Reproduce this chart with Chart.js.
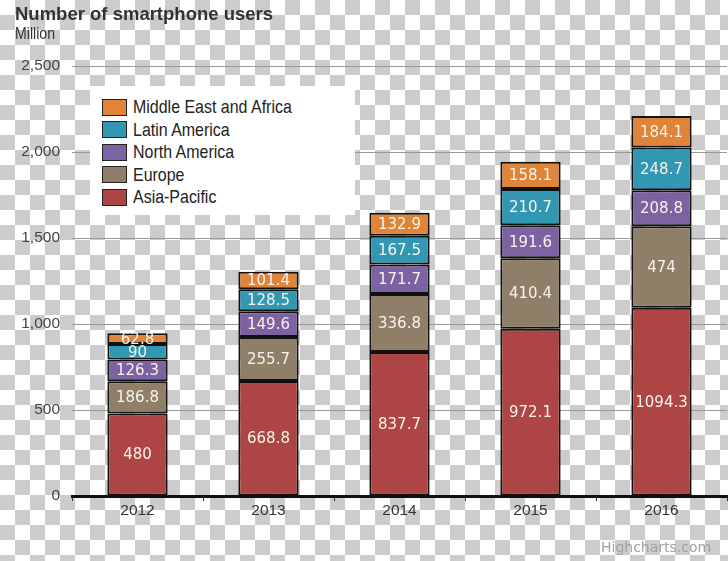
<!DOCTYPE html>
<html>
<head>
<meta charset="utf-8">
<title>Number of smartphone users</title>
<script src="https://cdn.jsdelivr.net/npm/chart.js@4.4.0/dist/chart.umd.min.js"></script>
<style>
    html, body { margin: 0; padding: 0; }
    body {
        width: 728px;
        height: 561px;
        overflow: hidden;
        position: relative;
        font-family: "Liberation Sans", Arial, sans-serif;
        background: repeating-conic-gradient(#cccccc 0 25%, #ffffff 0 50%) 0 0 / 30px 30px;
    }
    #usersChart { position: absolute; left: 0; top: 0; }
    .chart-title {
        position: absolute; left: 15px; top: 3px;
        font-size: 18.5px; font-weight: bold; color: #333;
    }
    .chart-unit {
        position: absolute; left: 15px; top: 24px;
        font-size: 17px; color: #333;
        transform: scaleX(0.83); transform-origin: left center;
    }
    .credits {
        position: absolute; left: 601px; top: 539px;
        font-family: "DejaVu Sans", sans-serif; font-size: 14px; color: #a0a0a0;
    }
    #legend {
        position: absolute; left: 90px; top: 86px;
        width: 265px; height: 129px;
        background: #fff;
        box-sizing: border-box;
        padding: 10px 0 0 12px;
    }
    .legend-item { height: 22.5px; display: flex; align-items: center; }
    .legend-box {
        width: 23px; height: 15px; border: 1px solid #222;
        margin-right: 6px; flex: none;
    }
    .legend-label {
        font-size: 19px; color: #222; white-space: nowrap;
        transform: scaleX(0.84); transform-origin: left center;
    }
</style>
</head>
<body>
<canvas id="usersChart" width="728" height="561"></canvas>
<div class="chart-title">Number of smartphone users</div>
<div class="chart-unit">Million</div>
<div id="legend"></div>
<div class="credits">Highcharts.com</div>

<script>
const years = ['2012', '2013', '2014', '2015', '2016'];

const asiaPacific = [480, 668.8, 837.7, 972.1, 1094.3];
const europe = [186.8, 255.7, 336.8, 410.4, 474];
const northAmerica = [126.3, 149.6, 171.7, 191.6, 208.8];
const latinAmerica = [90, 128.5, 167.5, 210.7, 248.7];
const middleEastAfrica = [62.8, 101.4, 132.9, 158.1, 184.1];

const regionNames = ['Asia-Pacific', 'Europe', 'North America', 'Latin America', 'Middle East and Africa'];
const regionColors = ['#ae4545', '#8f7f68', '#7c62a1', '#3197b3', '#df8438'];

const axisFont = { family: '"Liberation Sans", Arial, sans-serif', size: 15.5 };

document.addEventListener('DOMContentLoaded', function() {
    const seriesValues = [asiaPacific, europe, northAmerica, latinAmerica, middleEastAfrica];

    const datasets = seriesValues.map((values, i) => ({
        label: regionNames[i],
        data: values,
        backgroundColor: regionColors[i],
        borderColor: '#111',
        borderWidth: 2,
        borderSkipped: false,
        barPercentage: 0.46,
        categoryPercentage: 1
    }));

    // legend in the chart, top item first
    const legend = document.getElementById('legend');
    for (let i = regionNames.length - 1; i >= 0; i--) {
        const item = document.createElement('div');
        item.className = 'legend-item';
        item.innerHTML = `<span class="legend-box" style="background:${regionColors[i]}"></span><span class="legend-label">${regionNames[i]}</span>`;
        legend.appendChild(item);
    }

    // value inside every bar segment
    const barValues = {
        id: 'barValues',
        afterDatasetsDraw(chart) {
            const ctx = chart.ctx;
            ctx.save();
            ctx.font = '15px "DejaVu Sans", sans-serif';
            ctx.fillStyle = '#f7f3ea';
            ctx.textAlign = 'center';
            ctx.textBaseline = 'middle';
            chart.data.datasets.forEach((ds, i) => {
                chart.getDatasetMeta(i).data.forEach((bar, j) => {
                    ctx.fillText(String(ds.data[j]), bar.x, (bar.y + bar.base) / 2 + 1);
                });
            });
            ctx.restore();
        }
    };

    const ctx = document.getElementById('usersChart').getContext('2d');
    new Chart(ctx, {
        type: 'bar',
        data: {
            labels: years,
            datasets: datasets
        },
        options: {
            responsive: false,
            animation: false,
            layout: {
                padding: { top: 66, right: 1, left: 0, bottom: 0 }
            },
            plugins: {
                legend: { display: false },
                tooltip: { enabled: false }
            },
            scales: {
                x: {
                    stacked: true,
                    grid: {
                        drawOnChartArea: false,
                        drawTicks: true,
                        tickLength: 5,
                        color: '#333'
                    },
                    border: { color: '#111', width: 3 },
                    ticks: {
                        color: '#333',
                        padding: 0,
                        font: axisFont
                    },
                    afterFit: function(scale) {
                        scale.height = 65;
                    }
                },
                y: {
                    stacked: true,
                    min: 0,
                    max: 2500,
                    ticks: {
                        stepSize: 500,
                        color: '#444',
                        padding: 12,
                        font: axisFont
                    },
                    grid: {
                        color: '#999',
                        lineWidth: 1,
                        drawTicks: false
                    },
                    border: { display: false },
                    afterFit: function(scale) {
                        scale.width = 72;
                    }
                }
            }
        },
        plugins: [barValues]
    });
});
</script>
</body>
</html>
